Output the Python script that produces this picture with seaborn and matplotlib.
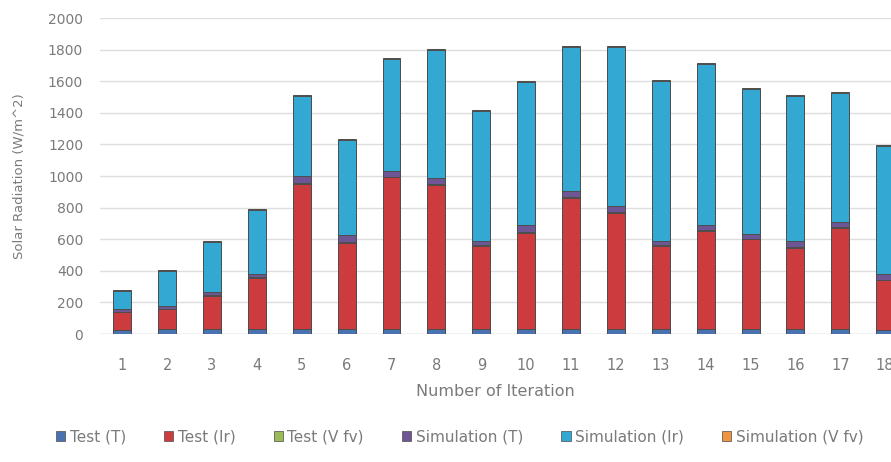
import matplotlib
matplotlib.use("Agg")
import matplotlib.pyplot as plt
from matplotlib.patches import Patch
import numpy as np
import pandas as pd
import seaborn as sns

iterations = ['1', '2', '3', '4', '5', '6', '7', '8', '9',
              '10', '11', '12', '13', '14', '15', '16', '17', '18']

# stacked segments, bottom to top
test_t = [28, 29, 30, 30, 31, 30, 31, 30, 29, 30, 31, 30, 29, 30, 30, 29, 30, 28]
test_ir = [109, 128, 212, 327, 921, 549, 960, 915, 529, 612, 833, 739, 529, 623, 570, 518, 644, 312]
test_vfv = [3, 3, 3, 3, 3, 3, 3, 3, 3, 3, 3, 3, 3, 3, 3, 3, 3, 3]
sim_t = [20, 19, 24, 19, 44, 42, 37, 38, 30, 44, 38, 38, 30, 34, 33, 40, 31, 35]
sim_ir = [114, 222, 313, 409, 508, 602, 709, 811, 821, 907, 913, 1008, 1011, 1022, 914, 917, 820, 812]
sim_vfv = [6, 6, 6, 6, 6, 6, 6, 6, 6, 6, 6, 6, 6, 6, 6, 6, 6, 6]

series = ['Test (T)', 'Test (Ir)', 'Test (V fv)', 'Simulation (T)', 'Simulation (Ir)', 'Simulation (V fv)']
values = [test_t, test_ir, test_vfv, sim_t, sim_ir, sim_vfv]
colors = ['#4A72B0', '#CC3C3E', '#9BBB59', '#6E5594', '#33A8D2', '#F0953F']

sns.set_style("white")
plt.rcParams['font.family'] = ['DejaVu Sans']
txt = '#7a7a7a'

fig = plt.figure(figsize=(8.91, 4.62), dpi=100)
ax = fig.add_axes([0.112, 0.277, 0.888, 0.684])

# draw cumulative totals from the top down so the layers stack
cum = np.cumsum(np.array(values), axis=0)
for i in range(len(series) - 1, -1, -1):
    df = pd.DataFrame({'iteration': iterations, 'value': cum[i]})
    sns.barplot(data=df, x='iteration', y='value', order=iterations, color=colors[i],
                width=0.4, saturation=1, edgecolor='#4d4d4d', linewidth=0.7, ax=ax, zorder=3)

ax.set_ylim(0, 2000)
ax.set_xlim(-0.5, 17.13)
ax.set_yticks(range(0, 2001, 200))
ax.yaxis.grid(True, color='#dedede', linewidth=1, zorder=0)
ax.set_axisbelow(True)
for s in ax.spines.values():
    s.set_visible(False)
ax.axhline(0, color='#d0d8e0', linewidth=1, zorder=2)
ax.tick_params(axis='y', length=0, pad=12, labelsize=10, labelcolor=txt)
ax.tick_params(axis='x', length=0, pad=17, labelsize=10.5, labelcolor=txt)
ax.set_xlabel('Number of Iteration', fontsize=11.5, color=txt, labelpad=8)
ax.set_ylabel('Solar Radiation (W/m^2)', fontsize=9.5, color=txt, labelpad=16)

handles = [Patch(facecolor=c, edgecolor='#4d4d4d', linewidth=0.5) for c in colors]
fig.legend(handles, series, loc='center', bbox_to_anchor=(0.516, 0.055), ncol=6, frameon=False,
           fontsize=11, labelcolor=txt, handlelength=0.6, handleheight=0.6, handletextpad=0.3,
           columnspacing=2.5)

fig.savefig('out.png', dpi=100)
